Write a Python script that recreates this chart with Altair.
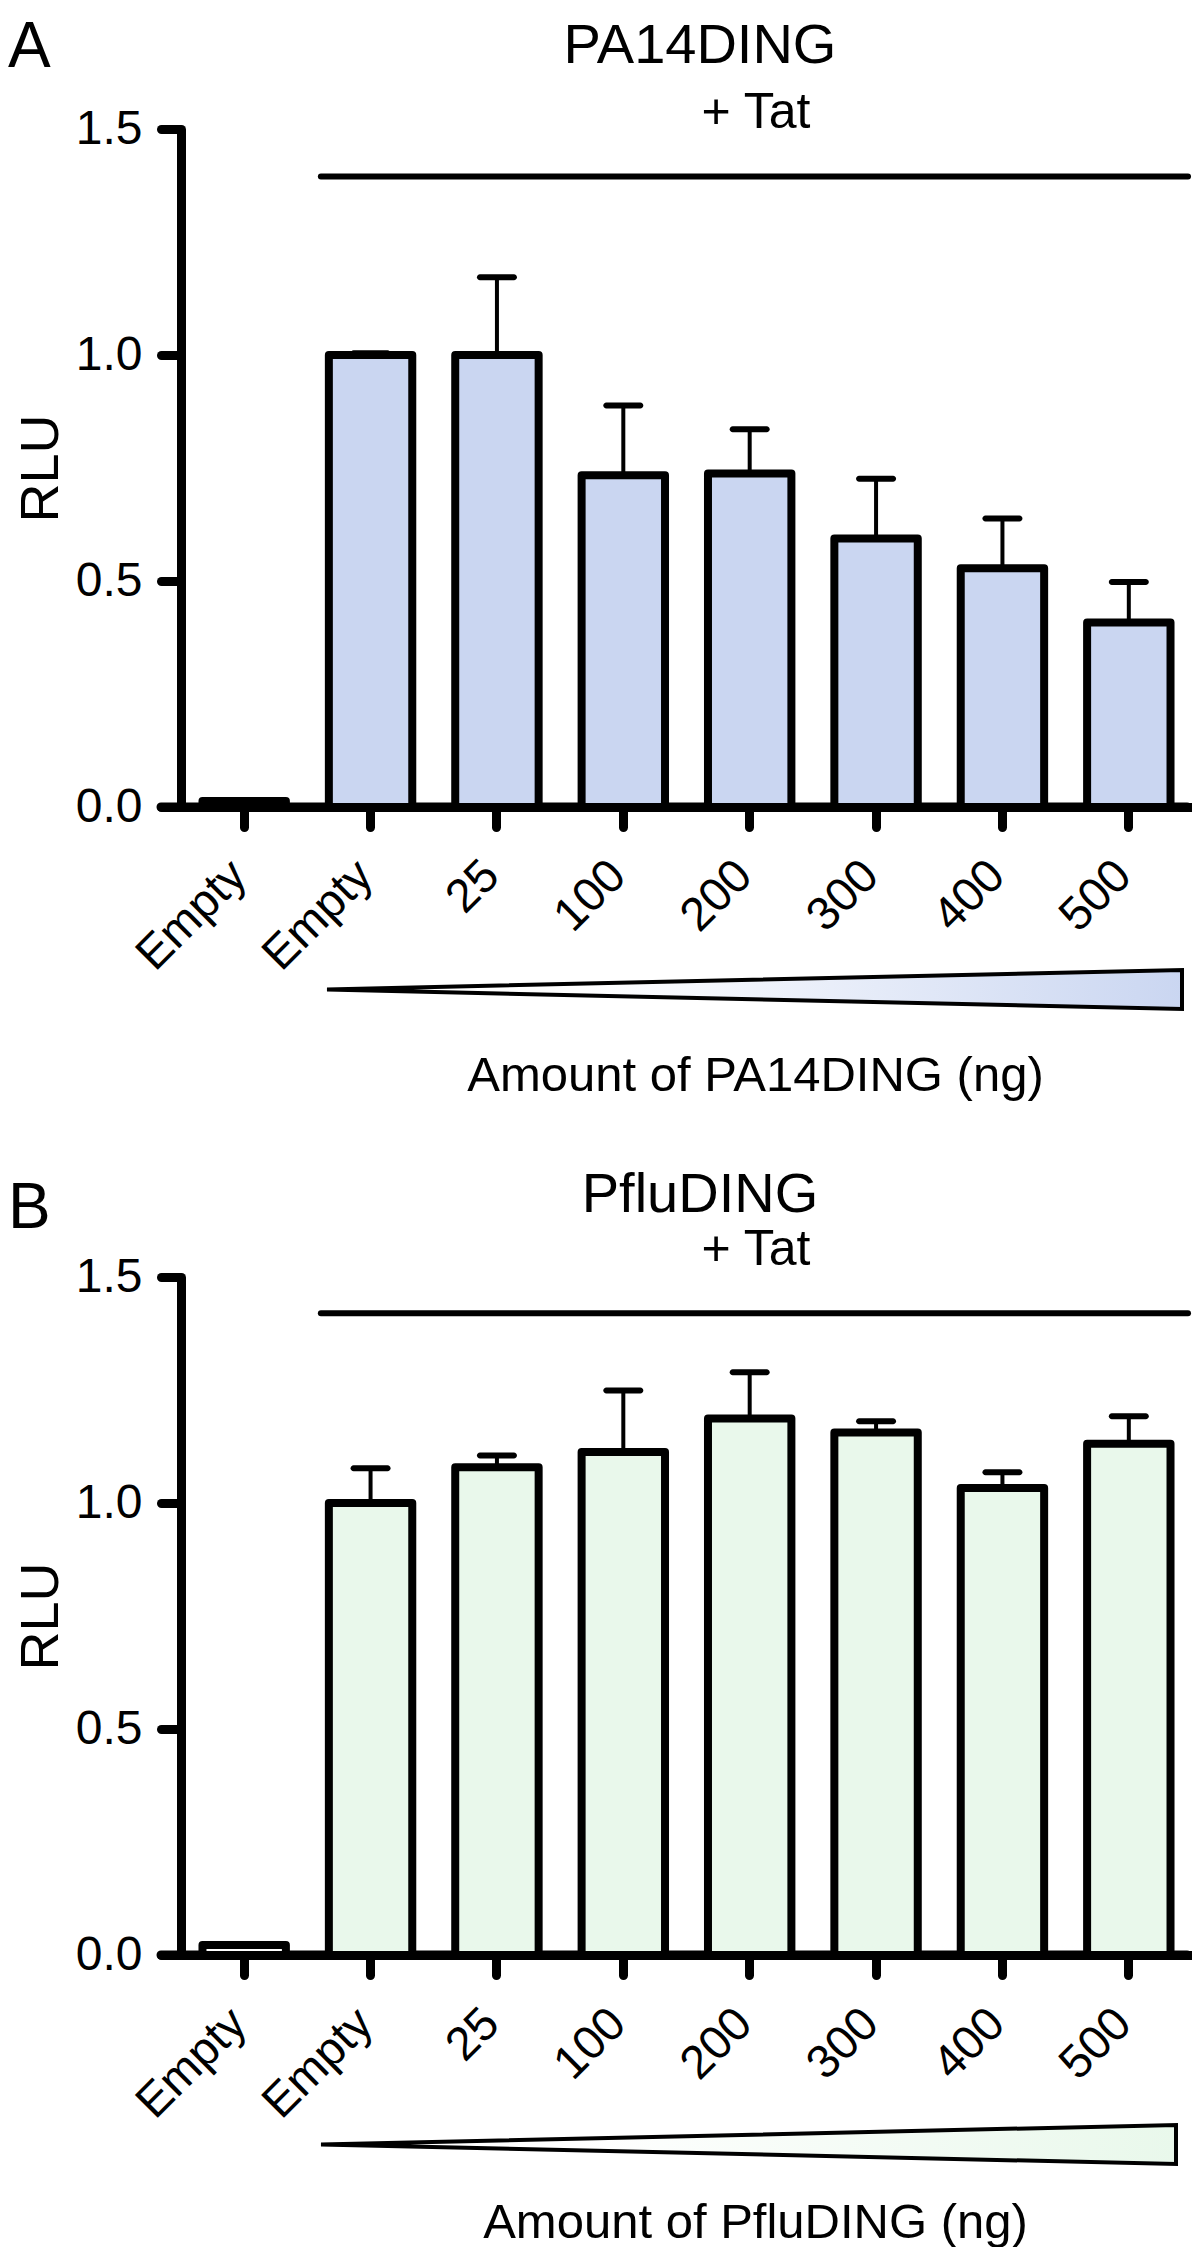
import json
import altair as alt
import pandas as pd

# ---------------- data ----------------
groups = ["Empty", "Empty+Tat", "25", "100", "200", "300", "400", "500"]
tick_labels = ["Empty", "Empty", "25", "100", "200", "300", "400", "500"]

pa14_mean = [0.013, 1.0, 1.0, 0.734, 0.738, 0.594, 0.528, 0.408]
pa14_err = [0.0, 0.004, 0.172, 0.154, 0.098, 0.132, 0.110, 0.090]

pflu_mean = [0.022, 1.0, 1.079, 1.113, 1.187, 1.156, 1.033, 1.131]
pflu_err = [0.0, 0.077, 0.026, 0.136, 0.102, 0.025, 0.035, 0.061]

wedge_amount = [0, 500]       # ng, from none to the largest amount
wedge_half = [0.0, 1.0]       # relative thickness of the wedge

y_ticks = [0.0, 0.5, 1.0, 1.5]

# ---------------- style ----------------
FONT = "Liberation Sans, Arial, Helvetica, sans-serif"
W, H = 1011, 678
BLUE = "#cad6f1"
GREEN = "#e9f8eb"

label_expr = (
    f"{json.dumps(tick_labels)}[indexof({json.dumps(groups)}, datum.value)]"
)


def panel(letter, name, means, errs, fill, lay):
    df = pd.DataFrame({"group": groups, "mean": means, "err": errs})
    df["top"] = df["mean"] + df["err"]
    base = alt.Chart(df)
    xtitle = f"Amount of {name} (ng)"

    x_axis = alt.Axis(
        title=xtitle,
        labelExpr=label_expr,
        labelAngle=-45,
        labelAlign="right",
        labelBaseline="middle",
        labelPadding=41,
        labelOffset=-5,
        labelFontSize=47,
        labelOverlap=False,
        labelBound=False,
        labelFlush=False,
        tickSize=20,
        tickWidth=9,
        tickCap="round",
        domainWidth=9,
        titleFontSize=49,
        titleX=574,
        titleY=lay["xtitle_y"],
        titleBaseline="alphabetic",
        titleAlign="center",
    )
    y_axis = alt.Axis(
        title="RLU",
        values=y_ticks,
        format=".1f",
        tickSize=20,
        tickWidth=9,
        tickCap="round",
        domainWidth=9,
        labelFontSize=48,
        labelPadding=19,
        titleFontSize=54,
        titleX=-124,
        titleBaseline="alphabetic",
        grid=False,
    )
    xscale = alt.Scale(domain=groups, paddingInner=0.34, paddingOuter=0.17)
    yscale = alt.Scale(domain=[0, 1.5], nice=False, zero=True)

    bars = base.mark_bar(
        stroke="black", strokeWidth=8, strokeJoin="round"
    ).encode(
        x=alt.X("group:N", sort=groups, scale=xscale, axis=x_axis, title=xtitle),
        y=alt.Y("mean:Q", scale=yscale, axis=y_axis, title="RLU"),
        fill=alt.condition(
            alt.datum.group == "Empty", alt.value("white"), alt.value(fill)
        ),
    )

    with_err = base.transform_filter(alt.datum.err > 0)
    err_lines = with_err.mark_rule(color="black", strokeWidth=4).encode(
        x=alt.X("group:N", sort=groups, title=xtitle),
        y=alt.Y("mean:Q", title="RLU"),
        y2="top:Q",
    )
    err_caps = with_err.mark_tick(
        color="black", size=40, thickness=6, cornerRadius=3, opacity=1
    ).encode(
        x=alt.X("group:N", sort=groups, title=xtitle),
        y=alt.Y("top:Q", title="RLU"),
    )

    one = alt.Chart(pd.DataFrame({"k": [0]}))

    axis_ext = one.mark_rule(
        color="black", strokeWidth=9, strokeCap="round"
    ).encode(
        x=alt.value(-20), x2=alt.value(W - 5), y=alt.datum(0)
    )

    tat_line = one.mark_rule(
        color="black", strokeWidth=6, strokeCap="round", xOffset=-8
    ).encode(
        x=alt.X(datum="Empty+Tat", bandPosition=0, title=xtitle),
        x2=alt.value(W - 4),
        y=alt.datum(lay["line_y"]),
    )
    tat_text = one.mark_text(
        text="+ Tat", font=FONT, fontSize=50, align="center",
        baseline="alphabetic", dy=lay["tat_dy"], color="black",
    ).encode(x=alt.value(575), y=alt.datum(1.5))

    title_text = one.mark_text(
        text=name, font=FONT, fontSize=56, align="center",
        baseline="alphabetic", color="black",
    ).encode(x=alt.value(519), y=alt.value(lay["title_y"]))

    letter_text = one.mark_text(
        text=letter, font=FONT, fontSize=64, align="left",
        baseline="alphabetic", color="black",
    ).encode(x=alt.value(-173), y=alt.value(lay["letter_y"]))

    inner = alt.layer(
        axis_ext, bars, err_lines, err_caps, tat_line, tat_text,
        title_text, letter_text,
    )

    wdf = pd.DataFrame({"amount": wedge_amount, "half": wedge_half})
    wedge = alt.Chart(wdf).transform_calculate(
        neg="-datum.half"
    ).mark_area(
        fill=alt.Gradient(
            gradient="linear",
            stops=[
                alt.GradientStop(color="white", offset=0),
                alt.GradientStop(color="white", offset=0.3),
                alt.GradientStop(color=fill, offset=1),
            ],
            x1=0, x2=1, y1=0, y2=0,
        ),
        stroke="black",
        strokeWidth=4,
        strokeJoin="miter",
    ).encode(
        x=alt.X("amount:Q", scale=alt.Scale(domain=[0, 500], range=lay["wedge_x"]), axis=None),
        y=alt.Y("half:Q", scale=alt.Scale(domain=[-1, 1], range=lay["wedge_y"]), axis=None),
        y2="neg:Q",
    )

    return alt.layer(inner, wedge).resolve_scale(
        x="independent", y="independent"
    ).properties(width=W, height=H)


lay_a = dict(xtitle_y=283, line_y=1.395, tat_dy=-1, title_y=-66, letter_y=-62,
             wedge_x=[146, 1001], wedge_y=[880, 841])
lay_b = dict(xtitle_y=282, line_y=1.42, tat_dy=-12, title_y=-65, letter_y=-49,
             wedge_x=[140, 995], wedge_y=[887, 848])

pa = panel("A", "PA14DING", pa14_mean, pa14_err, BLUE, lay_a)
pb = panel("B", "PfluDING", pflu_mean, pflu_err, GREEN, lay_b)

chart = alt.vconcat(pa, pb, spacing=67).properties(
    padding={"left": 0, "top": 8, "right": 0, "bottom": 0}
).configure_view(stroke=None).configure_axis(
    labelFont=FONT, titleFont=FONT, labelColor="black", titleColor="black",
    domainColor="black", tickColor="black", titleFontWeight="normal",
).configure_text(font=FONT)

chart.save("out.html", embed_options={"renderer": "svg", "actions": False})
